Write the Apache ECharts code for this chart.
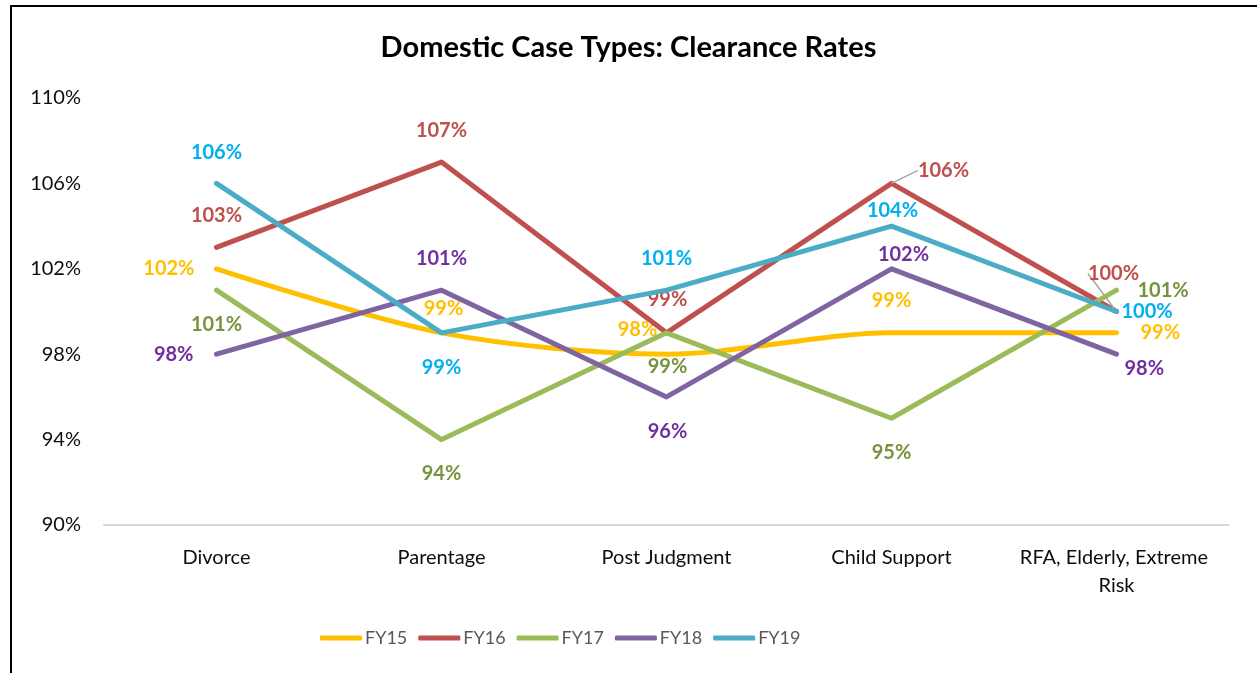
<!DOCTYPE html>
<html>
<head>
<meta charset="utf-8">
<script src="https://cdn.jsdelivr.net/npm/echarts@6/dist/echarts.min.js"></script>
<style>
  html, body { margin: 0; padding: 0; background: #fff; }
  #frame { position: absolute; left: 10px; top: 5px; width: 1260px; height: 680px; border-left: 2px solid #000; border-top: 2px solid #000; }
  #chart { position: absolute; left: 0; top: 0; width: 1257px; height: 673px; }
</style>
</head>
<body>
<div id="frame"></div>
<div id="chart"></div>
<script>
const titleText = 'Domestic Case Types: Clearance Rates';
const categories = ['Divorce', 'Parentage', 'Post Judgment', 'Child Support', 'RFA, Elderly, Extreme Risk'];
const seriesNames = ['FY15', 'FY16', 'FY17', 'FY18', 'FY19'];
const fy15 = [102, 99, 98, 99, 99];
const fy16 = [103, 107, 99, 106, 100];
const fy17 = [101, 94, 99, 95, 101];
const fy18 = [98, 101, 96, 102, 98];
const fy19 = [106, 99, 101, 104, 100];
const yMin = 90, yMax = 110, yLabelStep = 4;

const values = [fy15, fy16, fy17, fy18, fy19];
const lineColors = ['#FFC000', '#C0504D', '#9BBB59', '#8064A2', '#4BACC6'];
const labelColors = ['#FFC000', '#C0504D', '#77933C', '#7030A0', '#00B0F0'];
const smoothing = [0.3, false, false, false, false];

// label placement per series / point: [position, distance, dx, dy]
const labelPlace = [
  [['left', 22, 0, 0], ['top', 14, 2, 0], ['top', 15, -29, 0], ['top', 22, 0, 0], ['right', 24, 0, 0]],
  [['top', 22, 0, 0], ['top', 22, 0, 0], ['top', 23, 1, 0], ['top', 5, 52, 2], ['top', 5, -3, -23]],
  [['bottom', 24, 0, 0], ['bottom', 24, 0, 0], ['bottom', 24, 1, 0], ['bottom', 24, 0, 0], ['right', 21, 0, 0]],
  [['left', 23, 0, 0], ['top', 22, 0, 0], ['bottom', 25, 1, 0], ['top', 4, 12, 0], ['right', 8, 0, 14]],
  [['top', 21, 0, 0], ['bottom', 25, 0, 0], ['top', 22, 0, 0], ['top', 6, 1, 0], ['right', 5, 0, 0]]
];
// labels drawn with a leader line: "series-point"
const leaderLabels = ['1-3', '1-4'];

const FONT = 'Lato, "Open Sans", sans-serif';

const series = seriesNames.map((name, si) => ({
  name: name,
  type: 'line',
  symbol: 'circle',
  symbolSize: 0,
  showSymbol: true,
  smooth: smoothing[si],
  z: 2 + si,
  lineStyle: { color: lineColors[si], width: 5, cap: 'round', join: 'round' },
  itemStyle: { color: lineColors[si] },
  labelLine: { show: false },
  labelLayout: function (p) {
    const lp = labelPlace[p.seriesIndex][p.dataIndex];
    return { dx: lp[2], dy: lp[3] };
  },
  data: values[si].map((v, di) => {
    const lp = labelPlace[si][di];
    const hasLeader = leaderLabels.indexOf(si + '-' + di) >= 0;
    return {
      value: v,
      labelLine: { show: hasLeader, lineStyle: { color: '#a6a6a6', width: 1.5 } },
      label: {
        show: true,
        position: lp[0],
        distance: lp[1],
        formatter: '{c}%',
        color: labelColors[si],
        fontFamily: FONT,
        fontWeight: 'bold',
        fontSize: 20
      }
    };
  })
}));

const chart = echarts.init(document.getElementById('chart'), null, { renderer: 'canvas' });
chart.setOption({
  backgroundColor: 'transparent',
  animation: false,
  title: {
    text: titleText,
    left: 'center',
    top: 28,
    textStyle: { fontFamily: FONT, fontWeight: 'bold', fontSize: 29, color: '#000' }
  },
  legend: {
    data: seriesNames,
    left: 320,
    top: 629,
    padding: 0,
    icon: 'roundRect',
    itemWidth: 42,
    itemHeight: 5,
    itemGap: 11,
    textStyle: { fontFamily: FONT, fontSize: 18, color: '#595959', padding: [0, 0, 0, -2] }
  },
  grid: { left: 104, right: 28, top: 98, bottom: 148, containLabel: false },
  xAxis: {
    type: 'category',
    data: categories,
    boundaryGap: true,
    axisLine: { show: true, lineStyle: { color: '#d9d9d9', width: 2 } },
    axisTick: { show: false },
    axisLabel: {
      fontFamily: FONT, fontSize: 20, color: '#0d0d0d', margin: 19,
      lineHeight: 28, width: 225, overflow: 'break', interval: 0
    }
  },
  yAxis: {
    type: 'value',
    min: yMin,
    max: yMax,
    interval: 2,
    axisLine: { show: false },
    axisTick: { show: false },
    splitLine: { show: false },
    axisLabel: {
      fontFamily: FONT, fontSize: 20, color: '#0d0d0d', margin: 23,
      formatter: function (v) { return ((v - yMin) % yLabelStep === 0) ? v + '%' : ''; }
    }
  },
  series: series
});
</script>
</body>
</html>
